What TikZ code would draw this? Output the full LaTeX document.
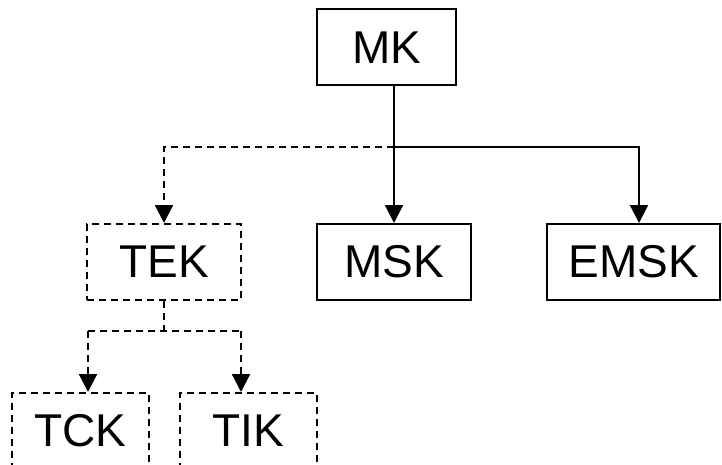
\documentclass[tikz,border=0pt]{standalone}
\usepackage{fontspec}
\setmainfont{Liberation Sans}
\usetikzlibrary{arrows.meta}
\begin{document}
\begin{tikzpicture}[x=1pt,y=-1pt,
  unit/.style={draw=black,line width=2pt,minimum height=76pt,inner sep=0pt,
    font=\fontsize{46}{50}\selectfont},
  planned/.style={unit,dash pattern=on 7pt off 5pt},
  tip/.style={-{Triangle[length=18pt,width=18pt]}},
  link/.style={line width=2.2pt,tip},
  plink/.style={link,dash pattern=on 7pt off 5pt}]
\useasboundingbox (0,0) rectangle (722,465);
\begin{scope}
\clip (0,0) rectangle (722,465);
% units
\node[unit,minimum width=139pt] (mk)   at (386.5,47.5) {MK};
\node[planned,minimum width=154pt] (tek) at (164,262) {TEK};
\node[unit,minimum width=154pt] (msk)  at (394,262) {MSK};
\node[unit,minimum width=173pt] (emsk) at (633.5,262) {EMSK};
\node[planned,minimum width=137pt] (tck) at (80.5,431) {TCK};
\node[planned,minimum width=137pt] (tik) at (248.5,431) {TIK};
% branch points
\coordinate (j) at (394,147);
\coordinate (e) at (639,147);
\coordinate (l) at (164,147);
\coordinate (t) at (164,331);
\coordinate (tl) at (88,331);
\coordinate (tr) at (241,331);
% solid links
\draw[line width=2.2pt] (mk.south -| j) -- (j);
\draw[link] (j) -- (msk.north);
\draw[link] (j) -- (e) -- (e |- emsk.north);
% dashed links
\draw[plink] (j) -- (l) -- (tek.north);
\draw[line width=2.2pt,dash pattern=on 7pt off 5pt] (tek.south) -- (t);
\draw[line width=2.2pt,dash pattern=on 7pt off 5pt] (tl) -- (tr);
\draw[plink] (tl) -- (tl |- tck.north);
\draw[plink] (tr) -- (tr |- tik.north);
\end{scope}
\end{tikzpicture}
\end{document}
